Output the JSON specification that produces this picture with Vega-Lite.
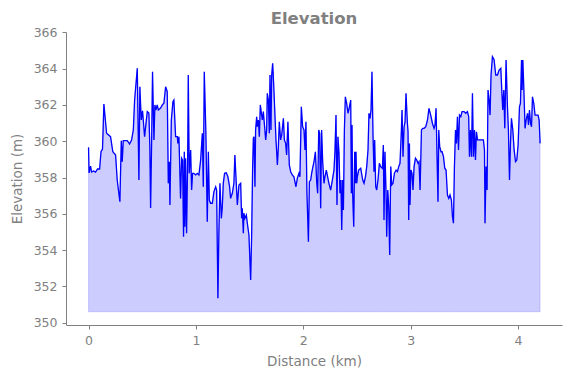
{
  "$schema": "https://vega.github.io/schema/vega-lite/v6.json",
  "width": 496,
  "height": 293,
  "autosize": {"type": "none"},
  "padding": {"left": 66, "top": 32, "right": 9, "bottom": 53},
  "background": "white",
  "title": {"text": "Elevation", "fontSize": 16.5, "fontWeight": "bold", "color": "gray", "font": "DejaVu Sans", "anchor": "middle", "offset": -1},
  "data": {"values": [
{"d":0.000,"e":359.66},{"d":0.005,"e":358.25},{"d":0.019,"e":358.63},{"d":0.028,"e":358.30},{"d":0.047,"e":358.36},{"d":0.065,"e":358.30},{"d":0.084,"e":358.47},{"d":0.103,"e":358.47},{"d":0.116,"e":359.42},{"d":0.130,"e":359.57},
{"d":0.143,"e":362.05},{"d":0.168,"e":360.44},{"d":0.205,"e":360.25},{"d":0.226,"e":359.42},{"d":0.252,"e":359.24},{"d":0.267,"e":357.86},{"d":0.292,"e":356.67},{"d":0.305,"e":360.03},{"d":0.314,"e":358.87},{"d":0.323,"e":360.03},
{"d":0.361,"e":360.03},{"d":0.382,"e":359.85},{"d":0.401,"e":360.07},{"d":0.417,"e":360.62},{"d":0.429,"e":362.27},{"d":0.454,"e":364.02},{"d":0.469,"e":357.86},{"d":0.478,"e":363.00},{"d":0.491,"e":361.17},{"d":0.503,"e":361.68},
{"d":0.522,"e":360.25},{"d":0.547,"e":361.63},{"d":0.562,"e":361.55},{"d":0.571,"e":359.70},{"d":0.578,"e":356.32},{"d":0.587,"e":359.70},{"d":0.596,"e":363.83},{"d":0.609,"e":360.07},{"d":0.618,"e":362.00},{"d":0.627,"e":361.72},
{"d":0.640,"e":362.00},{"d":0.650,"e":361.72},{"d":0.671,"e":361.83},{"d":0.687,"e":362.00},{"d":0.702,"e":362.10},{"d":0.718,"e":363.00},{"d":0.733,"e":362.73},{"d":0.743,"e":357.68},{"d":0.752,"e":358.87},{"d":0.758,"e":356.49},
{"d":0.771,"e":361.17},{"d":0.786,"e":362.18},{"d":0.795,"e":362.27},{"d":0.811,"e":360.25},{"d":0.827,"e":360.25},{"d":0.832,"e":359.88},{"d":0.842,"e":360.25},{"d":0.857,"e":356.85},{"d":0.867,"e":359.06},{"d":0.876,"e":358.96},
{"d":0.885,"e":354.74},{"d":0.892,"e":359.42},{"d":0.897,"e":355.29},{"d":0.904,"e":359.06},{"d":0.913,"e":354.93},{"d":0.923,"e":358.87},{"d":0.929,"e":363.65},{"d":0.938,"e":358.23},{"d":0.951,"e":359.52},{"d":0.960,"e":357.31},
{"d":0.969,"e":358.23},{"d":0.981,"e":358.23},{"d":0.997,"e":358.14},{"d":1.013,"e":358.23},{"d":1.028,"e":358.14},{"d":1.044,"e":358.96},{"d":1.060,"e":360.44},{"d":1.069,"e":357.49},{"d":1.078,"e":363.83},{"d":1.093,"e":360.44},
{"d":1.106,"e":355.56},{"d":1.116,"e":359.42},{"d":1.125,"e":356.76},{"d":1.137,"e":356.58},{"d":1.153,"e":356.58},{"d":1.168,"e":357.22},{"d":1.184,"e":357.49},{"d":1.193,"e":357.31},{"d":1.205,"e":351.34},{"d":1.214,"e":354.93},
{"d":1.224,"e":357.68},{"d":1.237,"e":355.75},{"d":1.246,"e":356.39},{"d":1.255,"e":357.68},{"d":1.267,"e":358.23},{"d":1.283,"e":358.26},{"d":1.298,"e":358.04},{"d":1.314,"e":357.49},{"d":1.323,"e":356.85},{"d":1.339,"e":357.13},
{"d":1.354,"e":357.68},{"d":1.363,"e":359.24},{"d":1.373,"e":358.04},{"d":1.386,"e":356.49},{"d":1.401,"e":357.59},{"d":1.417,"e":357.68},{"d":1.426,"e":355.75},{"d":1.432,"e":356.30},{"d":1.442,"e":354.93},{"d":1.447,"e":356.03},
{"d":1.457,"e":355.75},{"d":1.470,"e":355.93},{"d":1.479,"e":355.48},{"d":1.494,"e":354.83},{"d":1.510,"e":352.35},{"d":1.519,"e":354.74},{"d":1.528,"e":358.41},{"d":1.535,"e":360.16},{"d":1.541,"e":360.25},{"d":1.550,"e":357.49},
{"d":1.556,"e":360.62},{"d":1.566,"e":361.35},{"d":1.572,"e":360.80},{"d":1.582,"e":361.17},{"d":1.591,"e":360.25},{"d":1.600,"e":362.00},{"d":1.610,"e":361.54},{"d":1.619,"e":361.17},{"d":1.628,"e":361.63},{"d":1.640,"e":360.80},
{"d":1.650,"e":360.07},{"d":1.659,"e":360.62},{"d":1.665,"e":362.64},{"d":1.675,"e":362.27},{"d":1.684,"e":360.44},{"d":1.690,"e":363.65},{"d":1.699,"e":360.62},{"d":1.706,"e":363.65},{"d":1.715,"e":364.29},{"d":1.724,"e":363.19},
{"d":1.733,"e":361.90},{"d":1.746,"e":360.07},{"d":1.759,"e":358.69},{"d":1.768,"e":359.70},{"d":1.777,"e":361.07},{"d":1.789,"e":360.07},{"d":1.799,"e":360.34},{"d":1.815,"e":361.26},{"d":1.824,"e":360.07},{"d":1.836,"e":359.88},
{"d":1.845,"e":359.24},{"d":1.857,"e":361.07},{"d":1.870,"e":358.69},{"d":1.883,"e":358.32},{"d":1.898,"e":358.14},{"d":1.913,"e":358.04},{"d":1.932,"e":357.49},{"d":1.945,"e":357.96},{"d":1.960,"e":358.23},{"d":1.969,"e":358.04},
{"d":1.982,"e":361.90},{"d":1.994,"e":360.80},{"d":2.007,"e":360.62},{"d":2.016,"e":359.52},{"d":2.025,"e":361.07},{"d":2.034,"e":357.22},{"d":2.048,"e":354.46},{"d":2.057,"e":357.77},{"d":2.069,"e":357.86},{"d":2.078,"e":358.23},
{"d":2.090,"e":358.60},{"d":2.100,"e":358.87},{"d":2.113,"e":359.42},{"d":2.125,"e":357.77},{"d":2.134,"e":357.13},{"d":2.144,"e":360.62},{"d":2.153,"e":360.44},{"d":2.162,"e":356.30},{"d":2.171,"e":360.62},{"d":2.181,"e":358.87},
{"d":2.193,"e":357.68},{"d":2.202,"e":358.04},{"d":2.215,"e":358.41},{"d":2.227,"e":358.04},{"d":2.239,"e":357.68},{"d":2.255,"e":357.31},{"d":2.271,"e":357.86},{"d":2.286,"e":358.41},{"d":2.295,"e":359.42},{"d":2.305,"e":361.44},
{"d":2.314,"e":356.49},{"d":2.323,"e":360.25},{"d":2.333,"e":359.33},{"d":2.342,"e":357.13},{"d":2.351,"e":357.86},{"d":2.358,"e":355.11},{"d":2.367,"e":357.86},{"d":2.374,"e":356.21},{"d":2.383,"e":360.62},{"d":2.392,"e":362.45},
{"d":2.404,"e":362.09},{"d":2.417,"e":361.54},{"d":2.430,"e":361.90},{"d":2.442,"e":362.27},{"d":2.448,"e":357.13},{"d":2.454,"e":360.89},{"d":2.460,"e":357.13},{"d":2.470,"e":355.29},{"d":2.479,"e":359.42},{"d":2.486,"e":357.68},
{"d":2.491,"e":359.42},{"d":2.498,"e":357.68},{"d":2.504,"e":358.04},{"d":2.516,"e":358.41},{"d":2.535,"e":358.51},{"d":2.554,"e":357.86},{"d":2.566,"e":357.68},{"d":2.579,"e":358.04},{"d":2.591,"e":358.60},{"d":2.603,"e":359.52},
{"d":2.612,"e":361.54},{"d":2.622,"e":361.26},{"d":2.631,"e":361.72},{"d":2.640,"e":363.83},{"d":2.650,"e":360.25},{"d":2.659,"e":358.32},{"d":2.665,"e":360.07},{"d":2.675,"e":357.49},{"d":2.684,"e":357.31},{"d":2.696,"e":357.86},
{"d":2.709,"e":358.78},{"d":2.721,"e":358.60},{"d":2.737,"e":358.51},{"d":2.746,"e":359.79},{"d":2.752,"e":355.66},{"d":2.761,"e":359.42},{"d":2.771,"e":357.22},{"d":2.777,"e":354.74},{"d":2.787,"e":357.31},{"d":2.796,"e":356.39},
{"d":2.805,"e":353.73},{"d":2.815,"e":358.60},{"d":2.824,"e":357.59},{"d":2.836,"e":357.68},{"d":2.849,"e":358.23},{"d":2.864,"e":358.41},{"d":2.877,"e":358.32},{"d":2.889,"e":358.60},{"d":2.901,"e":358.78},{"d":2.914,"e":360.62},
{"d":2.920,"e":361.72},{"d":2.929,"e":359.15},{"d":2.939,"e":360.80},{"d":2.948,"e":361.07},{"d":2.957,"e":362.64},{"d":2.970,"e":360.99},{"d":2.976,"e":360.52},{"d":2.982,"e":355.66},{"d":2.989,"e":359.88},{"d":2.994,"e":356.49},
{"d":3.003,"e":358.41},{"d":3.013,"e":358.23},{"d":3.022,"e":357.31},{"d":3.032,"e":358.60},{"d":3.045,"e":359.06},{"d":3.057,"e":358.96},{"d":3.069,"e":358.78},{"d":3.078,"e":358.87},{"d":3.088,"e":357.31},{"d":3.101,"e":360.62},
{"d":3.113,"e":360.71},{"d":3.125,"e":360.71},{"d":3.141,"e":360.80},{"d":3.157,"e":361.17},{"d":3.171,"e":361.81},{"d":3.187,"e":361.44},{"d":3.203,"e":360.99},{"d":3.218,"e":360.71},{"d":3.227,"e":360.89},{"d":3.237,"e":361.81},
{"d":3.246,"e":359.15},{"d":3.255,"e":356.67},{"d":3.262,"e":360.62},{"d":3.271,"e":359.70},{"d":3.283,"e":359.42},{"d":3.293,"e":359.42},{"d":3.306,"e":359.15},{"d":3.318,"e":358.51},{"d":3.330,"e":358.41},{"d":3.343,"e":357.04},
{"d":3.355,"e":356.85},{"d":3.367,"e":357.04},{"d":3.380,"e":356.76},{"d":3.390,"e":355.84},{"d":3.399,"e":355.48},{"d":3.408,"e":358.60},{"d":3.418,"e":360.62},{"d":3.427,"e":359.88},{"d":3.436,"e":361.35},{"d":3.446,"e":359.52},
{"d":3.455,"e":361.44},{"d":3.467,"e":361.35},{"d":3.479,"e":361.63},{"d":3.498,"e":361.63},{"d":3.514,"e":361.54},{"d":3.529,"e":361.63},{"d":3.541,"e":361.35},{"d":3.548,"e":359.15},{"d":3.557,"e":360.62},{"d":3.567,"e":359.15},
{"d":3.576,"e":362.64},{"d":3.585,"e":359.15},{"d":3.595,"e":360.62},{"d":3.604,"e":358.96},{"d":3.613,"e":360.52},{"d":3.623,"e":360.07},{"d":3.637,"e":360.07},{"d":3.660,"e":360.07},{"d":3.678,"e":360.07},{"d":3.688,"e":359.52},
{"d":3.693,"e":355.48},{"d":3.703,"e":358.60},{"d":3.712,"e":357.31},{"d":3.721,"e":362.82},{"d":3.731,"e":362.27},{"d":3.740,"e":361.44},{"d":3.749,"e":363.65},{"d":3.762,"e":364.66},{"d":3.777,"e":364.51},{"d":3.793,"e":363.65},
{"d":3.809,"e":363.65},{"d":3.824,"e":363.92},{"d":3.840,"e":364.02},{"d":3.849,"e":362.82},{"d":3.858,"e":361.72},{"d":3.868,"e":362.82},{"d":3.877,"e":360.71},{"d":3.889,"e":364.47},{"d":3.902,"e":361.90},{"d":3.911,"e":360.62},
{"d":3.921,"e":357.86},{"d":3.930,"e":359.88},{"d":3.939,"e":361.26},{"d":3.952,"e":360.62},{"d":3.964,"e":359.52},{"d":3.977,"e":358.87},{"d":3.989,"e":358.96},{"d":4.001,"e":359.79},{"d":4.014,"e":361.90},{"d":4.023,"e":362.09},
{"d":4.033,"e":364.47},{"d":4.038,"e":362.82},{"d":4.045,"e":364.47},{"d":4.054,"e":363.00},{"d":4.066,"e":360.71},{"d":4.076,"e":361.17},{"d":4.089,"e":361.54},{"d":4.098,"e":360.89},{"d":4.107,"e":361.72},{"d":4.117,"e":360.99},
{"d":4.126,"e":360.80},{"d":4.135,"e":362.45},{"d":4.147,"e":362.09},{"d":4.159,"e":361.44},{"d":4.175,"e":361.44},{"d":4.187,"e":361.44},{"d":4.197,"e":361.17},{"d":4.206,"e":359.88}
  ]},
  "encoding": {
    "x": {"field": "d", "type": "quantitative", "scale": {"domain": [-0.21, 4.41], "nice": false, "zero": false},
      "axis": {"values": [0, 1, 2, 3, 4], "title": "Distance (km)", "format": "d", "labelPadding": 5, "titlePadding": 8}},
    "y": {"field": "e", "type": "quantitative", "scale": {"domain": [349.87, 366.02], "nice": false, "zero": false},
      "axis": {"values": [350, 352, 354, 356, 358, 360, 362, 364, 366], "title": "Elevation (m)", "format": "d", "labelPadding": 5, "titlePadding": 9}}
  },
  "layer": [
    {"mark": {"type": "area", "fill": "#0000ff", "fillOpacity": 0.2, "stroke": "#0000ff", "strokeOpacity": 0.15, "strokeWidth": 1},
     "encoding": {"y2": {"datum": 350.6}}},
    {"mark": {"type": "line", "color": "#0000ff", "strokeWidth": 1.3}}
  ],
  "config": {
    "view": {"stroke": null},
    "font": "DejaVu Sans",
    "axis": {"grid": false, "domainColor": "gray", "tickColor": "gray", "labelColor": "gray", "titleColor": "gray",
      "labelFont": "DejaVu Sans", "titleFont": "DejaVu Sans", "labelFontSize": 12.5, "titleFontSize": 13.5, "titleFontWeight": "normal",
      "tickSize": 4, "domainWidth": 1, "tickWidth": 1}
  }
}
